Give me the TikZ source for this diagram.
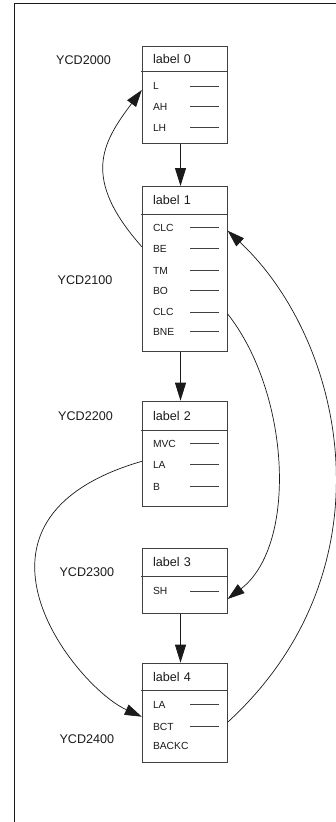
\documentclass[tikz,border=0pt]{standalone}
\usepackage{fontspec}
\setmainfont{Liberation Sans}
\usetikzlibrary{arrows.meta}
\definecolor{ink}{HTML}{1A1A1A}
\definecolor{boxline}{HTML}{404040}
\tikzset{
  box/.style={draw=boxline, line width=0.9pt, minimum width=85.5pt, inner sep=0pt, anchor=north west},
  head/.style={anchor=west, inner xsep=11pt, inner ysep=0pt, text width=63.5pt, align=left,
    text height=9pt, text depth=0pt, font=\fontsize{12.6}{14}\selectfont, text=ink},
  row/.style={anchor=west, inner xsep=11pt, inner ysep=0pt, text width=63.5pt, align=left,
    text height=7.4pt, text depth=0pt, font=\fontsize{10.3}{12}\selectfont, text=ink},
  addr/.style={anchor=west, inner sep=0pt, text height=9pt, text depth=0pt,
    font=\fontsize{12.6}{14}\selectfont, text=ink},
  sep/.style={draw=boxline, line width=0.9pt},
  dashline/.style={draw=boxline, line width=0.9pt},
  flow/.style={draw=ink, line width=0.9pt, -{Triangle[length=18pt,width=11pt]}},
  jump/.style={draw=ink, line width=0.7pt, -{Triangle[length=17pt,width=11pt]}},
}
\newcommand{\rowdash}[1]{\draw[dashline] ([xshift=-9pt]#1.east) -- ([xshift=-38pt]#1.east);}
\begin{document}
\begin{tikzpicture}[x=1pt, y=-1pt]
\useasboundingbox (0,0) rectangle (336,822);
% outer frame (open to the right and bottom)
\draw[ink, line width=1.6pt] (14.5,822) -- (14.5,3.5) -- (336,3.5);

% ---- block 0 ----
\node[box, minimum height=97pt] (b0) at (141.8,45.7) {};
\draw[sep] (140.8,71.7) -- (b0.east |- 0,71.7);
\node[head] (b0h) at (141.8,58.7) {label 0};
\node[row] (b0L)  at (141.8,86)    {L};
\node[row] (b0AH) at (141.8,106.7) {AH};
\node[row] (b0LH) at (141.8,127.7) {LH};
\rowdash{b0L}\rowdash{b0AH}\rowdash{b0LH}
\node[addr] (a0) at (56,60) {YCD2000};

% ---- block 1 ----
\node[box, minimum height=164.7pt] (b1) at (141.8,186) {};
\draw[sep] (140.8,214) -- (b1.east |- 0,214);
\node[head] (b1h) at (141.8,200) {label 1};
\node[row] (b1CLCa) at (141.8,227.7) {CLC};
\node[row] (b1BE)   at (141.8,248.7) {BE};
\node[row] (b1TM)   at (141.8,270.3) {TM};
\node[row] (b1BO)   at (141.8,290.3) {BO};
\node[row] (b1CLCb) at (141.8,312)   {CLC};
\node[row] (b1BNE)  at (141.8,331.7) {BNE};
\rowdash{b1CLCa}\rowdash{b1BE}\rowdash{b1TM}\rowdash{b1BO}\rowdash{b1CLCb}\rowdash{b1BNE}
\node[addr] (a1) at (57.5,280) {YCD2100};

% ---- block 2 ----
\node[box, minimum height=105.3pt] (b2) at (141.8,400.7) {};
\draw[sep] (140.8,430) -- (b2.east |- 0,430);
\node[head] (b2h) at (141.8,415.5) {label 2};
\node[row] (b2MVC) at (141.8,443.7) {MVC};
\node[row] (b2LA)  at (141.8,464.3) {LA};
\node[row] (b2B)   at (141.8,486.7) {B};
\rowdash{b2MVC}\rowdash{b2LA}\rowdash{b2B}
\node[addr] (a2) at (58,415.7) {YCD2200};

% ---- block 3 ----
\node[box, minimum height=65.6pt] (b3) at (141.8,547.7) {};
\draw[sep] (140.8,576) -- (b3.east |- 0,576);
\node[head] (b3h) at (141.8,562) {label 3};
\node[row] (b3SH) at (141.8,591) {SH};
\rowdash{b3SH}
\node[addr] (a3) at (59.3,571.7) {YCD2300};

% ---- block 4 ----
\node[box, minimum height=99pt] (b4) at (141.8,662.7) {};
\draw[sep] (140.8,690.7) -- (b4.east |- 0,690.7);
\node[head] (b4h) at (141.8,677) {label 4};
\node[row] (b4LA)    at (141.8,704.7) {LA};
\node[row] (b4BCT)   at (141.8,726.7) {BCT};
\node[row] (b4BACKC) at (141.8,746)   {BACKC};
\rowdash{b4LA}\rowdash{b4BCT}
\node[addr] (a4) at (59.3,739.3) {YCD2400};

% ---- fall-through edges ----
\draw[flow] ([xshift=-4.5pt]b0.south) -- ([xshift=-4.5pt]b1.north);
\draw[flow] ([xshift=-4.5pt]b1.south) -- ([xshift=-4.5pt]b2.north);
\draw[flow] ([xshift=-4.5pt]b3.south) -- ([xshift=-4.5pt]b4.north);

% ---- branch edges ----
\draw[jump] ([yshift=2pt]b1BE.west) .. controls (81,178) and (102,143) .. ([yshift=-4pt]b0L.west);
\draw[jump] ([yshift=-2pt]b1CLCb.east) .. controls (290,393) and (298,545) .. ([yshift=-8pt]b3SH.east);
\draw[jump] ([yshift=4.5pt]b4BCT.east) .. controls (395,568.6) and (344.8,340.4) .. ([yshift=-3pt]b1CLCa.east);
\draw[jump] ([yshift=3pt]b2LA.west) .. controls (-60,520) and (76,687) .. ([yshift=-12pt]b4LA.west);
\end{tikzpicture}
\end{document}
